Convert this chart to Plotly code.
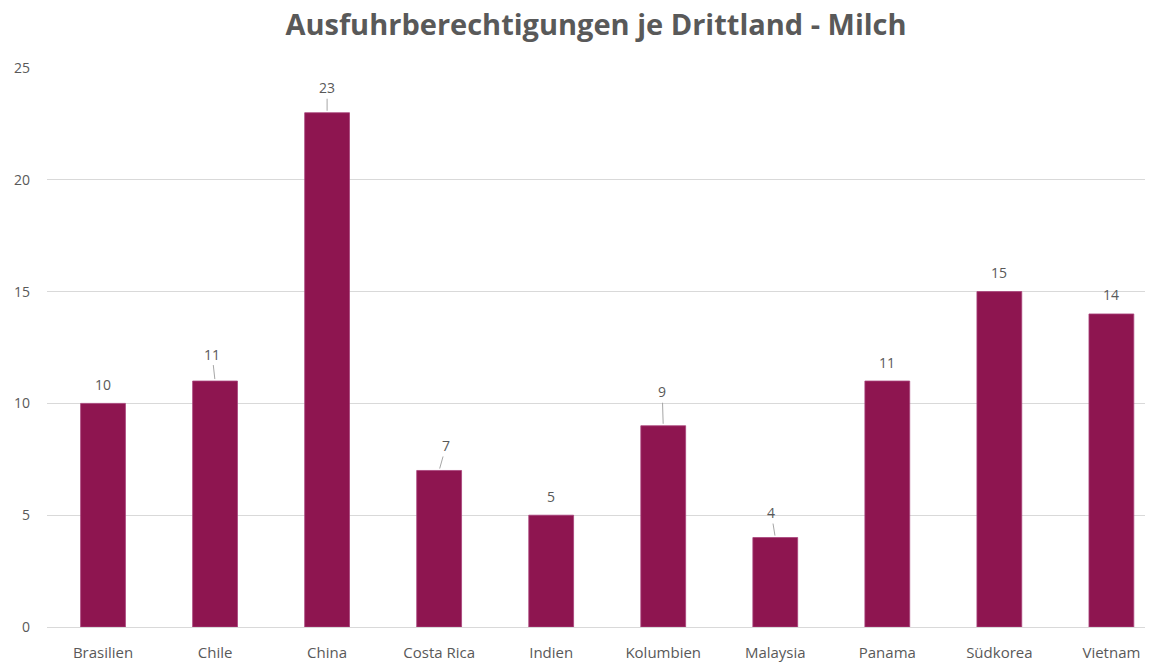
import plotly.graph_objects as go

# Export authorisations for milk, per third country
countries = ["Brasilien", "Chile", "China", "Costa Rica", "Indien",
             "Kolumbien", "Malaysia", "Panama", "Südkorea", "Vietnam"]
approvals = [10, 11, 23, 7, 5, 9, 4, 11, 15, 14]
y_ticks = [0, 5, 10, 15, 20, 25]

# Label placement (pixel offset of the label from the bar top) and whether
# a short leader line connects label and bar
label_dx = [0, -3, 0, 7, 0, -1, -4, 0, 0, 0]
label_dy = [-19, -27, -25, -25, -19, -34, -25, -19, -19, -19]
leader = [False, True, True, True, False, True, True, False, False, False]

BAR = "#8E1550"
TEXT = "#595959"
GRID = "#D9D9D9"
FONT = "Open Sans, Noto Sans, sans-serif"

x_pos = list(range(len(countries)))

fig = go.Figure()
fig.add_trace(go.Bar(
    x=x_pos,
    y=approvals,
    width=0.4,
    marker=dict(color=BAR, line=dict(color="#A8417A", width=0.8)),
    hoverinfo="x+y",
))

for i, v in enumerate(approvals):
    if leader[i]:
        fig.add_annotation(
            x=i, y=v, xref="x", yref="y", text=str(v),
            showarrow=True, arrowhead=0, arrowwidth=1, arrowcolor="#A6A6A6",
            ax=label_dx[i], ay=label_dy[i], standoff=2,
            font=dict(family=FONT, size=14, color=TEXT),
        )
    else:
        fig.add_annotation(
            x=i, y=v, xref="x", yref="y", text=str(v),
            showarrow=False, xshift=label_dx[i], yshift=-label_dy[i],
            font=dict(family=FONT, size=14, color=TEXT),
        )

fig.update_layout(
    width=1160, height=666,
    margin=dict(l=47, r=15, t=68, b=39, autoexpand=False),
    paper_bgcolor="white",
    plot_bgcolor="white",
    showlegend=False,
    bargap=0.6,
    title=dict(
        text="<b>Ausfuhrberechtigungen je Drittland - Milch</b>",
        x=0.5, xref="paper", xanchor="center",
        y=0.962, yref="container", yanchor="middle",
        font=dict(family=FONT, size=29, color=TEXT),
    ),
    font=dict(family=FONT, color=TEXT, size=14),
)

fig.update_xaxes(
    tickmode="array", tickvals=x_pos, ticktext=countries,
    range=[-0.5, 9.3],
    showgrid=False, zeroline=False,
    showline=True, linecolor=GRID, linewidth=1,
    ticks="", ticklabelstandoff=12, automargin=False,
    tickfont=dict(family=FONT, size=15, color=TEXT),
    fixedrange=True,
)
fig.update_yaxes(
    range=[0, 25], tickmode="array", tickvals=y_ticks,
    showgrid=True, gridcolor=GRID, gridwidth=1,
    zeroline=False, showline=False, ticks="",
    ticklabelstandoff=16, automargin=False,
    tickfont=dict(family=FONT, size=14, color=TEXT),
    fixedrange=True,
)

fig.write_html("out.html")
